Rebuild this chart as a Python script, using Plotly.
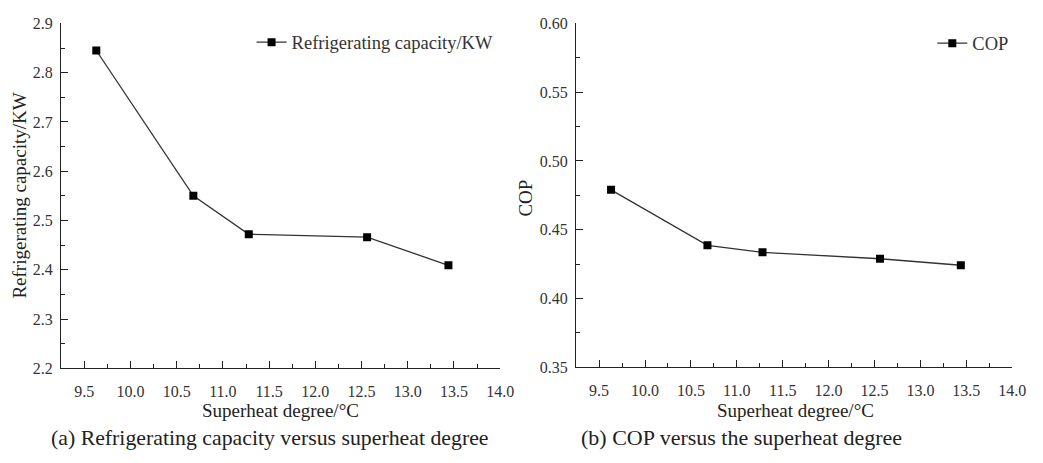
import plotly.graph_objects as go

superheat = [9.63, 10.68, 11.28, 12.56, 13.44]
capacity = [2.845, 2.550, 2.472, 2.466, 2.409]
cop = [0.479, 0.4387, 0.4336, 0.4289, 0.4242]

W, H = 1043, 463
FONT = "Liberation Serif, Times New Roman, serif"
TXT = "#333333"

def px(x):
    return x / W

def py(y):
    return 1 - y / H

fig = go.Figure()
fig.add_trace(go.Scatter(x=superheat, y=capacity, mode="lines+markers",
                         name="Refrigerating capacity/KW",
                         line=dict(color="#333333", width=1.3),
                         marker=dict(symbol="square", size=8, color="black"),
                         xaxis="x", yaxis="y", legend="legend"))
fig.add_trace(go.Scatter(x=superheat, y=cop, mode="lines+markers",
                         name="COP",
                         line=dict(color="#333333", width=1.3),
                         marker=dict(symbol="square", size=8, color="black"),
                         xaxis="x2", yaxis="y2", legend="legend2"))

def xa(domain, anchor):
    return dict(domain=domain, anchor=anchor, range=[9.25, 14.0], tick0=9.5, dtick=0.5,
                tickformat=".1f", showline=True, linecolor="#222", linewidth=1.2,
                ticks="inside", ticklen=7, tickcolor="#222", showgrid=False, zeroline=False,
                ticklabelstandoff=8,
                minor=dict(ticks="inside", dtick=0.25, tick0=9.25, ticklen=4, tickcolor="#222"),
                tickfont=dict(family=FONT, size=16, color=TXT))

def ya(domain, anchor, rng, dtick, mdtick, fmt):
    return dict(domain=domain, anchor=anchor, range=rng, dtick=dtick, tick0=rng[0],
                tickformat=fmt, showline=True, linecolor="#222", linewidth=1.2,
                ticks="inside", ticklen=7, tickcolor="#222", showgrid=False, zeroline=False,
                ticklabelstandoff=4,
                minor=dict(ticks="inside", dtick=mdtick, ticklen=4, tickcolor="#222"),
                tickfont=dict(family=FONT, size=16, color=TXT))

fig.update_layout(
    width=W, height=H, margin=dict(l=0, r=0, t=0, b=0),
    paper_bgcolor="white", plot_bgcolor="white",
    font=dict(family=FONT, color=TXT),
    xaxis=xa([px(62), px(507)], "y"),
    yaxis=ya([py(374), py(16)], "x", [2.2, 2.9], 0.1, 0.05, ".1f"),
    xaxis2=xa([px(584), px(1026)], "y2"),
    yaxis2=ya([py(373), py(16)], "x2", [0.35, 0.60], 0.05, 0.025, ".2f"),
    legend=dict(x=px(255), y=py(36), xanchor="left", yanchor="middle",
                bgcolor="rgba(0,0,0,0)", font=dict(family=FONT, size=18.5, color=TXT)),
    legend2=dict(x=px(945), y=py(37), xanchor="left", yanchor="middle",
                 bgcolor="rgba(0,0,0,0)", font=dict(family=FONT, size=18.5, color=TXT)),
    showlegend=True,
)

anns = [
    dict(text="Refrigerating capacity/KW", x=px(20), y=py(195), textangle=-90, size=19),
    dict(text="COP", x=px(533), y=py(197), textangle=-90, size=19),
    dict(text="Superheat degree/°C", x=px(284), y=py(418), textangle=0, size=19),
    dict(text="Superheat degree/°C", x=px(806), y=py(418), textangle=0, size=19),
    dict(text="(a) Refrigerating capacity versus superheat degree", x=px(274), y=py(446), textangle=0, size=21.8),
    dict(text="(b) COP versus the superheat degree", x=px(752), y=py(446), textangle=0, size=22),
]
for a in anns:
    fig.add_annotation(text=a["text"], x=a["x"], y=a["y"], xref="paper", yref="paper",
                       showarrow=False, textangle=a["textangle"], xanchor="center", yanchor="middle",
                       font=dict(family=FONT, size=a["size"], color="#222"))

fig.write_html("out.html")
